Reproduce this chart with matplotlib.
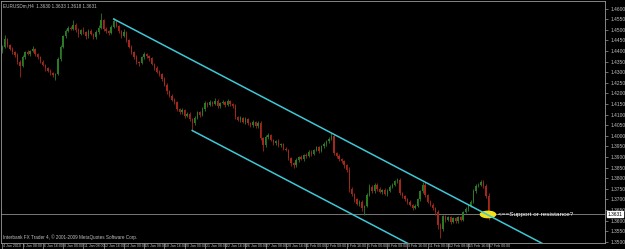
#!/usr/bin/env python3
# -*- coding: utf-8 -*-

# EURUSD H4 candle chart with a falling channel (MT4 style screenshot)

import numpy as np
import matplotlib
matplotlib.use('Agg')
import matplotlib.pyplot as plt
import matplotlib.transforms as mtransforms
from matplotlib.patches import Ellipse

# H4 closes, 4 Jan 2010 -> 17 Feb 2010
first_open = 1.4400
closes = [
    1.4420, 1.4455, 1.4430, 1.4410, 1.4395, 1.4380, 1.4350, 1.4330, 1.4370, 1.4395,
    1.4385, 1.4400, 1.4410, 1.4385, 1.4370, 1.4350, 1.4335, 1.4320, 1.4305, 1.4295,
    1.4285, 1.4290, 1.4360, 1.4420, 1.4470, 1.4495, 1.4510, 1.4505, 1.4525, 1.4500,
    1.4480, 1.4500, 1.4490, 1.4470, 1.4495, 1.4480, 1.4465, 1.4490, 1.4510, 1.4545,
    1.4505, 1.4495, 1.4485, 1.4515, 1.4540, 1.4520, 1.4495, 1.4470, 1.4490, 1.4450,
    1.4420, 1.4395, 1.4370, 1.4350, 1.4345, 1.4370, 1.4385, 1.4375, 1.4365, 1.4340,
    1.4320, 1.4300, 1.4290, 1.4270, 1.4240, 1.4210, 1.4190, 1.4170, 1.4160, 1.4125,
    1.4110, 1.4120, 1.4095, 1.4105, 1.4080, 1.4060, 1.4085, 1.4110, 1.4100, 1.4125,
    1.4155, 1.4145, 1.4160, 1.4150, 1.4165, 1.4140, 1.4155, 1.4160, 1.4145, 1.4165,
    1.4150, 1.4140, 1.4090, 1.4075, 1.4085, 1.4065, 1.4080, 1.4060, 1.4050, 1.4065,
    1.4045, 1.4060, 1.3990, 1.3955, 1.3995, 1.4005, 1.3980, 1.3965, 1.3975, 1.3955,
    1.3960, 1.3940, 1.3935, 1.3895, 1.3870, 1.3860, 1.3885, 1.3900, 1.3890, 1.3910,
    1.3905, 1.3925, 1.3915, 1.3935, 1.3945, 1.3930, 1.3950, 1.3960, 1.3975, 1.3985,
    1.4000, 1.3920, 1.3905, 1.3890, 1.3880, 1.3860, 1.3840, 1.3750, 1.3725, 1.3700,
    1.3680, 1.3690, 1.3660, 1.3670, 1.3720, 1.3760, 1.3740, 1.3770, 1.3750, 1.3735,
    1.3745, 1.3725, 1.3740, 1.3760, 1.3770, 1.3785, 1.3790, 1.3730, 1.3715, 1.3700,
    1.3690, 1.3675, 1.3660, 1.3670, 1.3700, 1.3740, 1.3770, 1.3720, 1.3690, 1.3675,
    1.3660, 1.3640, 1.3580, 1.3560, 1.3620, 1.3605, 1.3615, 1.3595, 1.3610, 1.3600,
    1.3615, 1.3605, 1.3640, 1.3655, 1.3670, 1.3690, 1.3740, 1.3765, 1.3770, 1.3780,
    1.3765, 1.3715, 1.3631]

# upper / lower shadows in pips
wick_up = [
    6, 20, 8, 5, 7, 4, 9, 6, 10, 5,
    8, 6, 15, 4, 7, 5, 9, 3, 6, 8,
    5, 7, 12, 9, 6, 10, 8, 7, 20, 5,
    9, 6, 11, 4, 8, 7, 5, 9, 12, 33,
    6, 8, 5, 10, 15, 7, 4, 6, 12, 5,
    8, 6, 4, 9, 5, 7, 10, 6, 8, 5,
    4, 7, 9, 5, 6, 8, 4, 7, 10, 5,
    6, 9, 7, 5, 8, 6, 10, 7, 5, 9,
    8, 6, 10, 5, 12, 7, 6, 9, 5, 8,
    6, 7, 10, 5, 8, 6, 9, 4, 7, 8,
    5, 10, 12, 6, 9, 8, 5, 7, 6, 9,
    5, 8, 6, 4, 7, 5, 9, 6, 8, 5,
    7, 6, 9, 5, 8, 6, 7, 9, 5, 8,
    15, 10, 6, 8, 5, 7, 6, 12, 8, 5,
    9, 6, 8, 5, 10, 12, 7, 9, 6, 8,
    5, 9, 7, 6, 8, 5, 12, 10, 6, 8,
    5, 7, 4, 9, 8, 6, 10, 12, 6, 5,
    8, 6, 10, 9, 7, 8, 5, 9, 6, 7,
    5, 8, 6, 9, 7, 5, 10, 8, 6, 10,
    12, 9, 14]
wick_dn = [
    8, 5, 9, 6, 10, 7, 12, 53, 6, 8,
    5, 9, 6, 7, 10, 5, 8, 12, 6, 9,
    7, 23, 5, 8, 6, 9, 7, 5, 8, 10,
    12, 6, 9, 15, 7, 5, 10, 6, 8, 5,
    9, 12, 8, 6, 5, 7, 10, 9, 6, 8,
    7, 10, 6, 9, 15, 5, 8, 6, 10, 7,
    9, 6, 8, 10, 7, 12, 9, 6, 8, 10,
    7, 9, 12, 6, 10, 35, 8, 6, 9, 5,
    7, 10, 6, 8, 5, 9, 7, 6, 10, 5,
    8, 9, 12, 7, 10, 6, 8, 9, 7, 10,
    6, 8, 10, 25, 7, 9, 6, 8, 10, 7,
    9, 6, 8, 10, 12, 10, 7, 9, 6, 8,
    10, 5, 8, 7, 6, 9, 5, 8, 6, 7,
    6, 9, 8, 10, 7, 12, 9, 15, 10, 12,
    8, 9, 15, 35, 7, 6, 10, 8, 9, 7,
    8, 6, 9, 7, 5, 8, 6, 10, 9, 7,
    10, 8, 12, 6, 7, 9, 8, 10, 9, 7,
    10, 12, 20, 42, 9, 10, 7, 12, 8, 9,
    10, 8, 7, 6, 9, 8, 7, 10, 6, 8,
    9, 10, 26]

# time axis labels, one every 8 bars
date_labels = ["4 Jan 2010", "5 Jan 08:00", "6 Jan 16:00", "8 Jan 00:00", "11 Jan 08:00",
               "12 Jan 16:00", "14 Jan 00:00", "15 Jan 08:00", "18 Jan 16:00", "20 Jan 00:00",
               "21 Jan 08:00", "22 Jan 16:00", "26 Jan 00:00", "27 Jan 08:00", "28 Jan 16:00",
               "1 Feb 00:00", "2 Feb 08:00", "3 Feb 16:00", "5 Feb 00:00", "8 Feb 08:00",
               "9 Feb 16:00", "11 Feb 00:00", "12 Feb 08:00", "15 Feb 16:00", "17 Feb 00:00"]
price_ticks = [1.4600, 1.4550, 1.4500, 1.4450, 1.4400, 1.4350, 1.4300, 1.4250, 1.4200,
               1.4150, 1.4100, 1.4050, 1.4000, 1.3950, 1.3900, 1.3850, 1.3800, 1.3750,
               1.3700, 1.3650, 1.3600, 1.3550, 1.3500]

# channel anchors (bar index, price)
channel_bars = [44, 130]
channel_prices = [1.4551, 1.4013]
lower_anchor = (75, 1.4025)
bid = 1.3631

header = "EURUSDm,H4  1.3630 1.3633 1.3618 1.3631"
footer = "Interbank FX Trader 4, \u00a9 2001-2009 MetaQuotes Software Corp."
note = "<==Support or resistance?"

plt.rcParams['font.family'] = ['Liberation Sans Narrow', 'Liberation Sans', 'DejaVu Sans']
fg = '#c0c0c0'
bull = '#2a7a26'
bear = '#a3281a'
cyan = '#3ec8d6'

closes = np.array(closes)
opens = np.concatenate([[first_open], closes[:-1]])
highs = np.maximum(opens, closes) + np.array(wick_up) * 0.0001
lows = np.minimum(opens, closes) - np.array(wick_dn) * 0.0001
idx = np.arange(len(closes))
colors = np.where(closes >= opens, bull, bear)

fig = plt.figure(figsize=(6.25, 2.49), dpi=100, facecolor='black')
ax = fig.add_axes([1/625, 6/249, 604/625, 242/249], facecolor='black')
xmax = 238.0
ax.set_xlim(-0.5, xmax)
ax.set_ylim(1.34944, 1.46359)

# candles
ax.vlines(idx, lows, highs, colors=colors, linewidth=0.6, zorder=3)
body = np.abs(closes - opens)
body = np.maximum(body, 0.00012)
ax.bar(idx, body, bottom=np.minimum(opens, closes), width=0.55, color=colors,
       linewidth=0, zorder=4)

# bid line
ax.axhline(bid, color='#8a8a8a', linewidth=0.6, zorder=2)

# channel rays
slope = (channel_prices[1] - channel_prices[0]) / (channel_bars[1] - channel_bars[0])
ax.plot([channel_bars[0], xmax], [channel_prices[0], channel_prices[0] + slope * (xmax - channel_bars[0])],
        color=cyan, linewidth=1.1, zorder=5)
ax.plot([lower_anchor[0], xmax], [lower_anchor[1], lower_anchor[1] + slope * (xmax - lower_anchor[0])],
        color=cyan, linewidth=1.1, zorder=5)

# marker + note
ax.add_patch(Ellipse((191.8, bid - 0.0002), 6.0, 0.0030, facecolor='#f2e21c',
                     edgecolor='#f2e21c', zorder=4.5))
ax.text(195.8, bid - 0.0002, note, color='white', fontsize=4.6, va='center', ha='left', zorder=6,
        family=['Liberation Sans', 'DejaVu Sans'])

# axes look
for s in ax.spines.values():
    s.set_color('#9a9a9a')
    s.set_linewidth(0.6)
ax.yaxis.tick_right()
ax.set_yticks(price_ticks)
ax.set_yticklabels(['%.4f' % p for p in price_ticks])
ax.tick_params(axis='y', colors='#9a9a9a', labelcolor=fg, labelsize=3.5, length=2.5,
               width=0.5, pad=1.5, direction='out')
ax.set_xticks(np.arange(0, len(closes), 8))
ax.set_xticklabels(date_labels)
ax.tick_params(axis='x', colors='#9a9a9a', labelcolor=fg, labelsize=2.6, length=5,
               width=0.5, pad=-4.0, direction='out')
for lab in ax.get_xticklabels():
    lab.set_ha('left')
    lab.set_transform(lab.get_transform() + mtransforms.ScaledTranslation(0.8/100, 0, fig.dpi_scale_trans))

# current price tag on the price scale
tr = mtransforms.blended_transform_factory(ax.transAxes, ax.transData)
ax.text(1.004, bid, '%.4f' % bid, transform=tr, fontsize=3.5, color='black', va='center',
        ha='left', clip_on=False, zorder=7,
        bbox=dict(boxstyle='square,pad=0.15', facecolor='white', edgecolor='white'))

ax.text(0.004, 0.99, header, transform=ax.transAxes, color=fg, fontsize=3.3, va='top', ha='left')
ax.text(0.004, 0.012, footer, transform=ax.transAxes, color=fg, fontsize=3.3, va='bottom', ha='left')

plt.savefig('out.png', dpi=100, facecolor='black')
plt.close()
